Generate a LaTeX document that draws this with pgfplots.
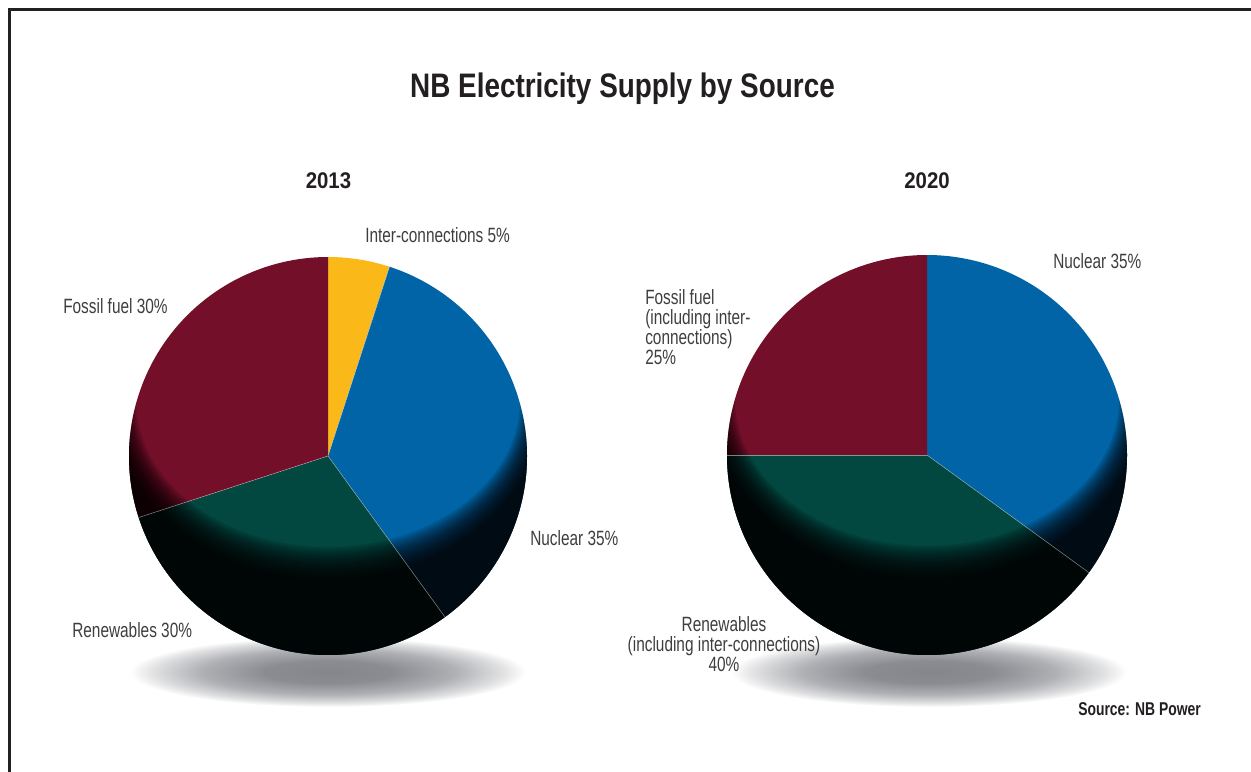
\documentclass[border=0pt]{standalone}
\usepackage{pgfplots}
\pgfplotsset{compat=1.18}
\usepackage{fontspec}
\setmainfont{Liberation Sans}
\newfontfamily\labfont{Liberation Sans}[FakeStretch=0.745]
\newfontfamily\ttlfont{Liberation Sans}[FakeStretch=0.82]
\newfontfamily\yrfont{Liberation Sans}[FakeStretch=0.9]
\newfontfamily\srcfont{Liberation Sans}[FakeStretch=0.75]

\definecolor{cMaroon}{RGB}{115,15,41}
\definecolor{cYellow}{RGB}{251,185,25}
\definecolor{cBlue}{RGB}{0,100,166}
\definecolor{cTeal}{RGB}{2,71,64}
\definecolor{cText}{RGB}{62,62,62}
\definecolor{cFrame}{RGB}{35,31,32}
\definecolor{cShadow}{RGB}{132,134,140}

\pgfdeclareradialshading{shadowshade}{\pgfpoint{0bp}{0bp}}{%
  color(0bp)=(cShadow); color(8bp)=(cShadow!95!white); color(16bp)=(cShadow!65!white);
  color(22bp)=(cShadow!25!white); color(25bp)=(white); color(50bp)=(white)}

% one pie slice: #1 cx, #2 cy, #3 radius, #4 share before (%), #5 share (%), #6 colour
\newcommand{\slice}[6]{%
  \pgfmathsetmacro\angA{90-3.6*(#4+#5)}%
  \pgfmathsetmacro\angB{90-3.6*(#4)}%
  \addplot[fill=#6, draw=none, domain=\angA:\angB, samples=120, variable=\t]
    ({#1+#3*cos(\t)}, {#2+#3*sin(\t)}) -- (axis cs:#1,#2) -- cycle;
}
% radial separator at the end of a cumulative share
\newcommand{\sep}[4]{%
  \pgfmathsetmacro\angS{90-3.6*(#4)}%
  \addplot[draw=white!75!gray, line width=0.4pt, opacity=0.55, domain=0:#3, samples=2, variable=\t]
    ({#1+\t*cos(\angS)}, {#2+\t*sin(\angS)});
}
% darkening towards the lower rim
\newcommand{\vignette}[3]{%
  \begin{scope}
  \clip (axis cs:#1,#2) circle [radius=#3];
  \foreach \k in {0,...,15}{%
    \pgfmathsetmacro\rx{192+1.6*\k}%
    \pgfmathsetmacro\ry{147+2.2*\k}%
    \pgfmathsetmacro\ey{#2+56}%
    \edef\doit{\noexpand\fill[black, opacity=0.112, even odd rule]
      (axis cs:0,0) rectangle (axis cs:1251,771)
      (axis cs:#1,\ey) ellipse [x radius=\rx, y radius=\ry];}%
    \doit
  }
  \end{scope}
}

\begin{document}
\begin{tikzpicture}
\useasboundingbox (0,0) rectangle (938.25pt,578.25pt);
\begin{axis}[at={(0,0)}, anchor=south west,
  width=938.25pt, height=578.25pt, scale only axis,
  xmin=0, xmax=1251, ymin=0, ymax=771,
  hide axis, clip=false]

% shadows
\shade[shading=shadowshade] (axis cs:328,99) ellipse [x radius=198, y radius=35];
\shade[shading=shadowshade] (axis cs:929,99) ellipse [x radius=198, y radius=35];

% 2013: Inter-connections 5, Nuclear 35, Renewables 30, Fossil fuel 30
\slice{328}{315}{199}{0}{5}{cYellow}
\slice{328}{315}{199}{5}{35}{cBlue}
\slice{328}{315}{199}{40}{30}{cTeal}
\slice{328}{315}{199}{70}{30}{cMaroon}
\vignette{328}{315}{199}
\sep{328}{315}{199}{5}
\sep{328}{315}{199}{40}
\sep{328}{315}{199}{70}

% 2020: Nuclear 35, Renewables 40, Fossil fuel 25
\slice{927}{316}{200}{0}{35}{cBlue}
\slice{927}{316}{200}{35}{40}{cTeal}
\slice{927}{316}{200}{75}{25}{cMaroon}
\vignette{927}{316}{200}
\sep{927}{316}{200}{35}
\sep{927}{316}{200}{75}

% frame
\draw[cFrame, line width=2.25pt] (axis cs:1260,761.5) -- (axis cs:9.5,761.5) -- (axis cs:9.5,-10);

% titles
\node[anchor=base, text=cFrame, font=\ttlfont\bfseries\fontsize{25.5}{30}\selectfont] at (axis cs:622.5,673) {NB Electricity Supply by Source};
\node[anchor=base, text=cFrame, font=\yrfont\bfseries\fontsize{17}{20}\selectfont] at (axis cs:328.5,582) {2013};
\node[anchor=base, text=cFrame, font=\yrfont\bfseries\fontsize{17}{20}\selectfont] at (axis cs:927,582) {2020};
\node[anchor=base west, inner sep=0pt, text=cFrame, font=\srcfont\bfseries\fontsize{13.9}{16}\selectfont] at (axis cs:1078,56) {Source: NB Power};

% labels
\tikzset{lab/.style={text=cText, font=\labfont\fontsize{15.5}{15}\selectfont, inner sep=0pt}}
\node[lab, anchor=base west] at (axis cs:365,528) {Inter-connections 5\%};
\node[lab, anchor=base west] at (axis cs:63,457) {Fossil fuel 30\%};
\node[lab, anchor=base west] at (axis cs:530,226) {Nuclear 35\%};
\node[lab, anchor=base west] at (axis cs:72,134) {Renewables 30\%};
\node[lab, anchor=base west] at (axis cs:1053,502) {Nuclear 35\%};
\node[lab, anchor=base west] at (axis cs:645,466) {Fossil fuel};
\node[lab, anchor=base west] at (axis cs:645,446) {(including inter-};
\node[lab, anchor=base west] at (axis cs:645,426) {connections)};
\node[lab, anchor=base west] at (axis cs:645,406) {25\%};
\node[lab, anchor=base] at (axis cs:724,140) {Renewables};
\node[lab, anchor=base] at (axis cs:724,120) {(including inter-connections)};
\node[lab, anchor=base] at (axis cs:724,100) {40\%};
\end{axis}
\end{tikzpicture}
\end{document}
